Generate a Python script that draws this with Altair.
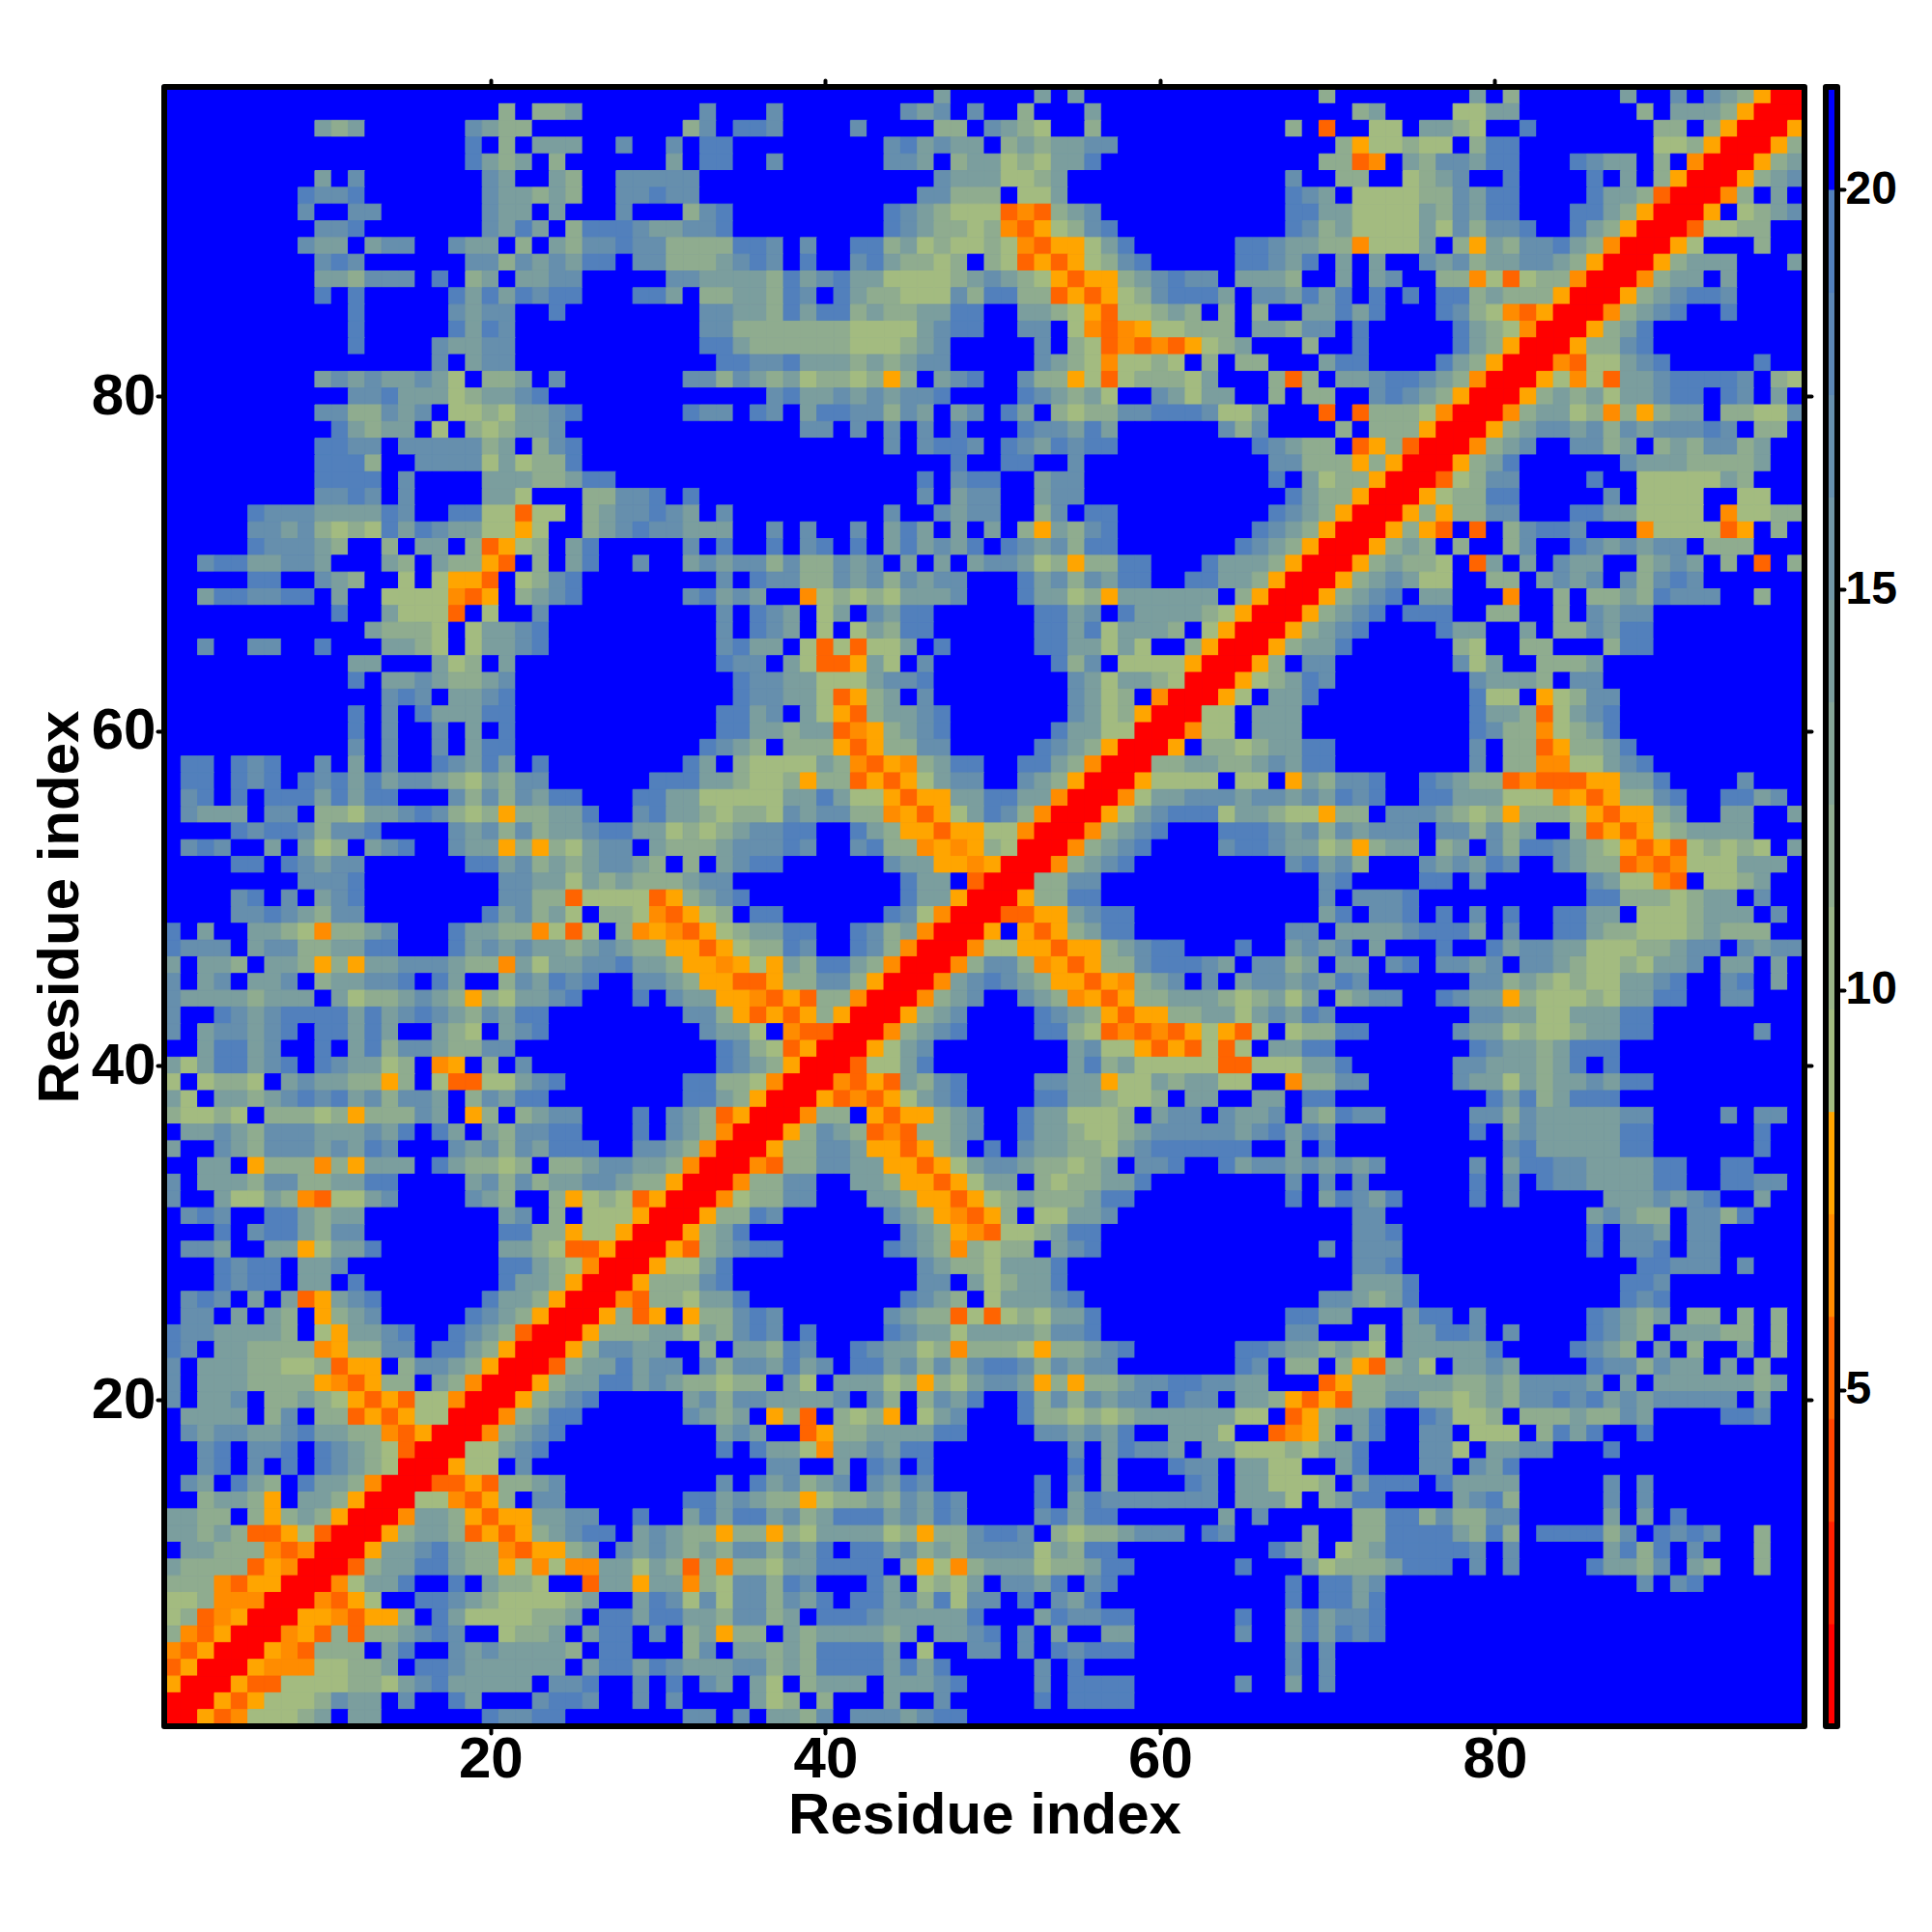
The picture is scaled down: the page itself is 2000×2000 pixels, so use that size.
import altair as alt
import pandas as pd

# Contact-map classes read cell by cell, top row (residue 98) first.
# r k l m n o = red to orange classes, e d c b a = green to steel-blue classes, . = blue
COLS_1_30 = [
"..............................",
"....................d.ddc.....",
".........cdc......bcdd........",
"..................a.d.ccc..b..",
"..................acdc.d......",
".........c.b.......bc..cd..bbb",
"........abba.......bccdcd..bba",
"........b..bb......bcc.c...b..",
".........bba.......bcac.daaabc",
"........bcc.cbb..bcc.d.cdbbabb",
".........bab......bbdbcbcaa.bb",
".........ccdbbb.a.dc.ccbb.....",
".........a.a.....acacabaa...aa",
"...........a.....bcbb..a......",
"...........a.....acab.........",
"...........a....bccbb.........",
"................b.cbb.........",
".........cbcbccbce.ddc.b......",
"...........bbacccedccba.......",
".........bbddbcb.eedeccba.....",
"..........acdcc.e.dedccb......",
".........aabb.bbbbbdc.dba.....",
".........aaad..bbbbecedda.....",
".........aaaa.b....cccddcaa...",
".........bbab.b....cce...ddbba",
".....abbbccccab..aaeemee.dcbba",
".....bbcbdedeacabcceeoe..dcbab",
".....abbbcd..d.cc.dmoed.ca....",
"..baaccbbc...cd.cddom.d.ca..b.",
".....aa..bcd..e.eoom.edba.....",
"..caabbaa.c..eeeenmo.dcba.....",
"..........a..ceeem.e..b.......",
"............cddde.eccba.......",
"..b..bb..a...ccde.eccba.......",
"...........cc...ced.c.........",
"...........a.ccbcddcb.........",
".............bab.ccba.........",
"...........a.b.acccaa.........",
"...........a.b..b.c.a.........",
"...........b.b..b.caa.........",
".aa.aba..b.c.b..abcac.a.......",
".aa.aba.abacacbbcdecdbb......a",
".ba.a.aaacacaa...bdbdbcaa...aa",
".bccc.bb.ddeccbabdedoddcca..ba",
"....abaabdbba....bcbdbdccbaacc",
".bab..c.ced.cba..bccododecbb.c",
"....aa.abcbb......aacbdcdcbbcd",
"........bbba........bbccecdcdd",
"....ba.b.cba........bbddmeeeem",
"....bbabcdbb.......acbdce.dden",
"a.c..ccdenddcb...accddneme.dno",
"abbb.cbbddccaa...acbcbccdcbcdd",
"c.ccd.ccdodoccbbbcddnceccbbacc",
"b.cb.ccb.dccbba.ac..dbcaba..bb",
"bccccdccc.ceddcbcdodeccba...a.",
"b..abcbaaaacacbabcdbcaa.......",
"b.cbbcba.aacac..cde.cba.......",
"..caacb..a.cadbbcddbb.........",
"cecaacba.abcced.no.d.b........",
"e.edde.cbccddod.emmeecba......",
"ce.ccdcbabacbdbbc.dbcaa.......",
"deede.dddedodddbc.od.dcbb...a.",
".ccbcdbbbcccbca.ac.cdbbaa...a.",
"c..bcdbbbcbcab...bcbdbcaaa..bb",
"..cc.odddndoccc.acdded.ddcbbcc",
"b.cccdbbddccaa....cbdbdccbbcdd",
"b..ceecdnmeecb....bcd..doedemo",
".bab..aacdcc........cb.d.eeeor",
"...a.baacdbb........aaddoeeorr",
".bbc..ccoecca.......ccdemmorrr",
"...abaa.ccb.........aacdenrrro",
"...abaa.cc.a........accdorrrod",
".bab.c.cmocba......accdorrrnmd",
".bb.c.cd.odcb.....abcdorrrodmo",
"abbccccd.eoccba..abcdmrrrodddc",
"ab.ccddddnoddbb.aacdorrrodbbcc",
"b.cccddeedmoo.dbbcdorrrmdccacb",
"b.cccddddonmodd.cdnrrrodccaacb",
"b.ccb.ddcdeomomeenrrrodcba....",
".cccc.db.ddmomoeerrrndcaa.....",
".bcbbccbaccddnmorrrndcba......",
"..ba.bba.abcdemrrreecba.......",
"..ba.b.a.abcderrroee.b........",
".bc.acd.accdnrrrmmomddcb......",
"..dccdo.ccdorrreenmod.bb......",
"ccdd.dodcdorrrnccdomooccbb..a.",
"ccdcdmmoemrrrodccdmomodcbaa.cb",
".ccdddnmnrrroccbacddnmoodc.bcb",
"cddddmonrrrmdccaacddoenennccec",
"dddnmoorrrnecca..a.cdde..mccoc",
"eednnnrrrnmoe..aabcdeeeedc..ca",
"edmnorrroonmood.aceeeeddc.aaca",
"dnmorrrnomdmddcbab..eddc.caa.b",
"nmorrronmddd.ca..bcbccccd.aa..",
"morrronnneeddc.aabcccccc.caaca",
"orrrommeeeeddecbaccccc.bba..b.",
"rrromoeeedbcc.b..ac...baab..b.",
"rromneeedc.cc......abbaa......",
]
COLS_31_64 = [
"................c.....c.c.........",
"..b...b.......bcb.b..d...c........",
".db.aab....b....dd.bcde..d........",
"b.aa.........bacbcc.dcdccbb.......",
"c.aa..b......bbc.dccedecca........",
"bb..............bccceedc..........",
"bb.............bbddd.eec..........",
".dba.........abcdeeemnmdcb........",
"cbba.........abcddednmoedba.......",
"ddddaab.b..aadcedeedenmooeca......",
"dddcbab.a..bacdded.demomoedba.....",
"bbccccdacbacceeeedcbcdeomoodcbabb.",
"c.ddccdab.acddeeebdaaddmomoedbaaac",
"..bbccdacaadcddccaa..ccdeomeedcd.d",
"..bbdddddddeeeecbaa..bb.enmnoeeddd",
"..aacddddddeeedcb.....b.demnmnmoed",
"...aabbacccdcdcbb.....bcdeneede.d.",
".bbdbcdceddedod.cba..bddoemedddec.",
"......baccbcbcbba....abcdce..bcecc",
".abb.ab.caabbdbc.cb.ac.deddbbaaabe",
"........bb.b.b.b.a...abbcac......b",
".............b.baab.abcabaa.......",
".................a..aa..b.........",
"...............a.baa..cbb.........",
".a.............b.cbb..cbb.........",
"bc.b.........b..bcbb..db.aa.......",
"bccc..b.b..b.cac.c.c.docdba.......",
".b.a..a.ba.a.cacbca.abcbdaa.......",
".cbcbbdbddbcb.c.c.cbbcedoddaa...ac",
"...b.abbddbcbdbcbb...acbdbcaa..aac",
".bacbc..nededecccb...accedocccccc.",
"...b.abc.ec.bcaa......aacb.accccde",
"...b.abc.e.ecdaa......aacaecccd.eo",
"...bacc.ememeec.a.....aaccece..dor",
"...abb.cemmoce.b.......adb.eeeeorr",
"....abbcceeecbba........bceccderrr",
"....abbccemodc.b........bced.nrrro",
"...aacb.ceomdccba.......bcedorrree",
"...aaccdccmnodcba......acceerrrnee",
"..abcd.dddomoddbb.....abcdorrro.dd",
".ac.deeeecdnmondcaa..aacdnrrrddccd",
"aaccdeedoddmomoecbb..bcdorrroeeee.",
"cceeeeeccaceeomooccaaccnrrrneccbbb",
"ccdeddebcbbddnomoecabdnrrroecbaaae",
"ededcbbaa..acdoomooeenrrrndcba...a",
"dddcbbbab..baddnonoderrrndcba....b",
".d.cbaa......bccoonorrrndcba......",
"dcbb..........acc.mrrrddbb........",
"odcba.........accorrroddaa........",
"moed.aa......abenrrrmmoocbaa......",
"nmoedccaa..abdcnrrro.omodcaa......",
"oomoeddab..abdnrrrneeoomoodcbaa...",
"doonoeocdaacdnrrrndbbdnomoddbaaabc",
"cdoommoddbbdorrrncbabcdoomondcb.b.",
"bccoonmomddnrrrndcb..bcdnomoddcccd",
".bbdomomodorrrodcb....abcdomooddcc",
"..bcce.nmmrrrndcba....aademnmnmoeo",
"...abdemorrroecb........cbeeomomem",
"...abcdorrrmeeca........cadceeeeem",
".aaddenrrrnmomcdba....bbccoeecdcce",
".aacdorrromnmoecba....aaccdeed.cc.",
"bcdmorrrndd.omoodcb..acceeed.cbb.b",
"bcdnrrrodbcdmnmddcb..accdeedcbbbbb",
"cdnrrroddbbcoomodc.a.bccddecbaaaaa",
"dnrrrnmddbbccoomoecbbcddedc.bba..a",
"orrrnddbb..ccdoomoecc.deddcca.....",
"rrrneddbb...ccdoomoedcdddcaa......",
"rroddab......bcdonmod.eeccb.......",
"rodca.........bcdonmeedcaa........",
"omdcbaa......abcdndedd.cba........",
"eeca...........bcddeccca..........",
"ddba...........bb.cedcca..........",
"decca.........abcd.ecccba.........",
".oddbab......bcddmemedecca........",
"cecdbab.a....abcceccccdbba........",
"..d.ccdab..abccedndddeoddcba......",
"b.bdbbcacb.aacbdbdbaabdbcbb.......",
"cddedd.ce.cccedodecbbcododdcbbaabb",
".cbdbbccccb.bd.dbca..adbdbcbb.abb.",
".bcdc.odm.dedo.ecb...addededcccccc",
"...cbc..moddccccaa....bbcbca..ccce",
"...a.accenccbcaa........b.cabbc.cc",
"......bb..c.ab.a........a.c...abb.",
"...b.acbdcb.bcab......a.b.c....ab.",
".aacbcddoeddcdbcab....a.cabbbbbbb.",
".cacaacbdcaaacbcab....bacaa......c",
"cddoddodeccccedoddbaab.deddcbbb.ab",
"cdcdbbdbca.aacbdcdbbbbecdaa.......",
"dmdnddeccaaaa.doendcccedd" + "caa......",
"cndebbdab...ac.edec.bbca.ba.......",
"bebebbdbca.aacbdaebb.a.bca........",
"accdbbdc.aaabccccca...cabbaa......",
".dcodd.cdccccdc.ccba.b.c..cc......",
".db.ccdcdaaaac.e..bb.b.abaaa......",
"bcccbbdcdaaaacaca.....b.a.........",
"a.bc.ce.dccc.cccba....b.aaaa......",
"b....ced.d...c..b.....a.aaaa......",
".bb.b.ccdb.bbbcbaa................",
]
COLS_65_98 = [
".....d........c.d......c..b.bcdorr",
".......dc....eecc.......d.cccdorrr",
"...d.m..ee.ccde..a.......dd.dorrro",
"......doeedee.daa........eedorrrod",
".....ddmn.cdbbcaa...abcc.d.nrrrodc",
"...b..dd..edcb..a....a.c.dorrrodcb",
"...abc.eeeeddbcaa....accdmrrrnd.c.",
"...aacceeeecdbcaa...aacdorrro.edcb",
"...abdceeeecebdbba..acdorrrmeedd..",
"aabccddneeec.docdbbacdnrrroe...d..",
"aabca.c.c..bcbdccbbcdorrrodccc...c",
"cccd..c.cb..ddnemeddnrrrndcc.c....",
".bbcaca.a.a.aadcdddorrrodcbaab....",
".d..ccaca...abdenmorrrndcba..a....",
".ccdbb.a.....acdenrrrodca.........",
"c...d..a.....acdorrroddba.........",
"dd...caa....acdorrrnmeecba.....a..",
"..dmd.ccbaabcdnrrroenemccbaaaab.de",
"..d.dd..babcdorrrodcdceccbaa.ab.c.",
"ec...m.mdddenrrrndccedndodcc.ddeeb",
"db....d.dddorrrodcbbcbdbcbbbab.dd.",
".abcdd.modmrrrndcb..bbdc.dcdbbdc..",
"..bbdddodorrrodca......bcccddddc..",
"..a.ceddorrrmedbb....a..eeeeecd...",
"...acddorrroeddaa.....b.eeee..ee..",
"..abcdorrrododdbb...aacceeee.needd.",
".abcdorrrodom.m.dbaab...neeeemo.d.",
"abcdorrrodcd.d..db..abcbcbb.ddd...",
"ccdorrrodcdde.mc.c.bcc..dcbc.d.m.d",
"cdorrrodcbcee..dd.cbcb.bdbab......",
"dorrrodcba.cc...n..d.ddcdabbb..d..",
"orrrodcba.aaa..dd..d.bcbb.........",
"rrrodcba....acc..c.ddbcaa.........",
"rrodcca......de..dd...daa.........",
"rod.bb.......bec..dddc............",
"oedcab........bcccd.bb............",
"e.cca.........aee.oedbb...........",
".ccc..........accdmecba...........",
".ccc..........abddnedca...........",
"edccaa........b.ddmoddca..........",
"dcbcaa........b.ddnneecba.........",
"ee.ocdbba..abcddmnmmmoocca....b...",
"cbbcbcaba..aaccceeenomoddba..aacb.",
"ccdeeodd.bbbcdedodddeomoodc..cc..c",
"aabcbdbcbbb.bbdbdc..dmomoedcccc...",
"aabccedodcc.dc.bdaabcdeomomedede.c",
"...bacbd...bcbcab..bcddmnmneeeccc.",
".....ba....aa.b......bceenm.eedc..",
".....b.bbba..........aadddedcc.b..",
".....ca.bba.a.b.a..aacc.eeedccc.b.",
"...bb.ccccbaaac.b..aacddeeedcddd..",
"a..cbcb.c...a..acbbcceeeddcbb.bcbb",
".bbdc.cc.ba.bbcb.bbcdeedeccb.cc.c.",
"cbbcbcab......bbdcdedeeccba..ba.c.",
"edcec.dcbb..abccodeeedeccaa..bb...",
"ecbcab........bbcceecccaa.........",
"me.eddaa.....bccedeedccaa......b..",
"e.ccaa........abccdcaaa...........",
"meeecca......bbcccdca.a...........",
"e..nddbb.....bccecdccbcaa.........",
".cc.aa.........acadcaaa...........",
"ccb.cdabb.....bbdbcccccbb....b.bb.",
"cbacab........a.cbcccccaa......a..",
"a..c.a..........bacccccaa......a..",
"cbbcbcbcb.....b.caabbccccaa..aa...",
"...b.b.b......a.b.abbccccaa..aabb.",
"...a.cabca....a.b.....cccbcba..c..",
".......bb............cbcdd.bbda...",
".......bba...........a.bbc.bb.....",
".....b.bbb...........a.bba.bb.....",
".......bba..............aabbb.b...",
".......ccca............aab........",
".....bbcdca............aba........",
"...aacc...caa.b......abcdc.dd.d.d.",
"...bb...d.ccaab.b....abcd.cccdd.d.",
"aabccdcde.ccccca....abcd.c.d..c.d.",
"ab.dd.domdce.ccbc....abbdbcc.c.d..",
"cc...moddccccddcdbbbbc.c.ccccccdc.",
"ccdomomddbbddedcdbbabacbcbbbbb.c..",
"ee.modcca..abeed.dddcddbc....aab..",
"..mnod.ca..bb.eee.daca..a.........",
"eeedecca...bbe.ccbb...a...........",
"ccee..ca...bb.bca.................",
"cceeed.caaa.acccc.....b.b.........",
"ccce.dcaa....cbad.....b.b.........",
".b.....ddaadbddbb.....c.c.a.......",
"....d..ddaaaacdad.aaaadb.abab..d..",
"..acd.edcaaaaab.b.....cada.b...d..",
"a...cedddcaaa.b.b....accdb.cd..d..",
"...a.aacb...............b.ba......",
"...a.aaca.........................",
"a..cacbba.........................",
"b..cacaba.........................",
"...b.b............................",
"...b.b............................",
"b..c.b............................",
"..................................",
"..................................",
]

CLASS_OF = {"r": 0, "k": 1, "l": 2, "m": 3, "n": 4, "o": 5,
            "e": 6, "d": 8, "c": 10, "b": 12, "a": 14, ".": 15}
PALETTE = ["#ff0000", "#ff2000", "#ff4500", "#ff6400", "#ff8c00", "#ffa500",
           "#a3bb80", "#99b488", "#8fac8f", "#85a597", "#7b9e9e", "#7196a6",
           "#668fad", "#5c87b5", "#5280bc", "#0000ff"]
LOW, STEP = 0.8, 1.28
N = 98
W, H = 1698, 1697
FONT = "Liberation Sans"
TICKS = [20, 40, 60, 80]
BAR_TICKS = [5, 10, 15, 20]

edges = [LOW + STEP * i for i in range(len(PALETTE) + 1)]
scale = alt.Scale(type="threshold", domain=edges[1:-1], range=PALETTE)

records = []
for i in range(N):
    row = N - i
    line = (COLS_1_30[i].ljust(30, ".")[:30] + COLS_31_64[i].ljust(34, ".")[:34]
            + COLS_65_98[i].ljust(34, ".")[:34])
    for j, ch in enumerate(line):
        k = CLASS_OF[ch]
        records.append({"x0": j + 0.5, "x1": j + 1.5, "y0": row - 0.5, "y1": row + 0.5,
                        "d": LOW + STEP * (k + 0.5)})
cells = pd.DataFrame(records)

xs = alt.Scale(domain=[0.5, 98.5], nice=False, zero=False)
ys = alt.Scale(domain=[0.5, 98.5], nice=False, zero=False)

common = dict(values=TICKS, grid=False, domain=False, tickColor="black", tickWidth=4,
              tickSize=7, tickCap="round", labelFont=FONT, labelFontWeight="bold",
              labelFontSize=60, labelColor="black", titleFont=FONT, titleFontWeight="bold",
              titleFontSize=60, titleColor="black")

heat = alt.Chart(cells).mark_rect(strokeWidth=1).encode(
    x=alt.X("x0:Q", scale=xs, axis=alt.Axis(title="Residue index", orient="bottom",
                                            labelPadding=-2, titlePadding=-1, **common)),
    x2="x1:Q",
    y=alt.Y("y0:Q", scale=ys, axis=alt.Axis(title="Residue index", orient="left",
                                            labelPadding=2, titlePadding=1, **common)),
    y2="y1:Q",
    color=alt.Color("d:Q", scale=scale, legend=None),
    stroke=alt.Stroke("d:Q", scale=scale, legend=None),
)

frame_df = pd.DataFrame({"x0": [0.5], "x1": [98.5], "y0": [0.5], "y1": [98.5]})
frame = alt.Chart(frame_df).mark_rect(filled=False, stroke="black", strokeWidth=6,
                                      strokeJoin="round").encode(
    x=alt.X("x0:Q", scale=xs, axis=alt.Axis(title=None, orient="top", labels=False, **common)),
    x2="x1:Q",
    y=alt.Y("y0:Q", scale=ys, axis=alt.Axis(title=None, orient="right", labels=False, **common)),
    y2="y1:Q",
)

main = alt.layer(heat, frame).resolve_axis(x="independent", y="independent").properties(width=W, height=H)

bar_df = pd.DataFrame({"y0": edges[:-1], "y1": edges[1:],
                       "d": [(a + b) / 2 for a, b in zip(edges[:-1], edges[1:])]})
bar_scale = alt.Scale(domain=[edges[0], edges[-1]], nice=False, zero=False)
bar_axis = alt.Axis(title=None, orient="right", values=BAR_TICKS, grid=False, domain=False,
                    tickColor="black", tickWidth=4, tickSize=7, tickCap="round",
                    labelFont=FONT, labelFontWeight="bold", labelFontSize=48,
                    labelColor="black", labelPadding=1)
bar = alt.Chart(bar_df).mark_rect(strokeWidth=1).encode(
    x=alt.value(0), x2=alt.value(12),
    y=alt.Y("y0:Q", scale=bar_scale, axis=bar_axis),
    y2="y1:Q",
    color=alt.Color("d:Q", scale=scale, legend=None),
    stroke=alt.Stroke("d:Q", scale=scale, legend=None),
)
bar_frame_df = pd.DataFrame({"y0": [edges[0]], "y1": [edges[-1]]})
bar_frame = alt.Chart(bar_frame_df).mark_rect(filled=False, stroke="black", strokeWidth=6,
                                              strokeJoin="round").encode(
    x=alt.value(0), x2=alt.value(12),
    y=alt.Y("y0:Q", scale=bar_scale, axis=bar_axis),
    y2="y1:Q",
)
colorbar = alt.layer(bar, bar_frame).properties(width=12, height=H)

chart = alt.hconcat(main, colorbar, spacing=22, bounds="flush").resolve_scale(color="independent", stroke="independent").properties(
    padding={"left": 24, "top": 73, "right": 10, "bottom": 10},
    background="white",
).configure_view(stroke=None, fill="#0000ff")

chart.save("out.html", embed_options={"renderer": "svg", "actions": False})
